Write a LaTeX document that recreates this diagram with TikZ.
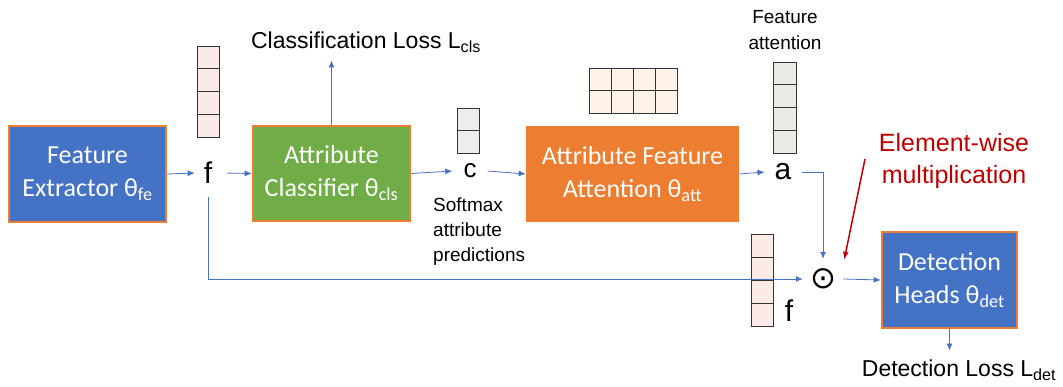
\documentclass[tikz,border=0pt]{standalone}
\usepackage{fontspec}
\setmainfont{Liberation Sans}
\newfontfamily\boxfont{Carlito}
\newfontfamily\symfont{DejaVu Sans}
\usetikzlibrary{arrows.meta}
\definecolor{myblue}{HTML}{4472C4}
\definecolor{myorange}{HTML}{ED7D31}
\definecolor{mygreen}{HTML}{70AD47}
\definecolor{myred}{HTML}{C00000}
\definecolor{pinkcell}{HTML}{FBEAE6}
\definecolor{peachcell}{HTML}{FEF3E7}
\definecolor{greycell}{HTML}{EDEDED}
\definecolor{sagecell}{HTML}{E8ECE4}
\begin{document}
\begin{tikzpicture}[x=1pt,y=-1pt,
  block/.style={draw=myorange,line width=2.6pt,text=white,align=center,
    font=\boxfont\fontsize{26}{33}\selectfont,inner sep=0pt},
  cellstyle/.style={draw=black!80,line width=0.9pt},
  arr/.style={draw=myblue,line width=0.8pt,-{Latex[length=7pt,width=6pt]}},
  redarr/.style={draw=myred,line width=1.5pt,-{Latex[length=8pt,width=6pt]}},
  lbl/.style={inner sep=0pt,font=\fontsize{30}{36}\selectfont},
  txt/.style={inner sep=0pt,font=\fontsize{23}{28}\selectfont}]
\useasboundingbox (0,0) rectangle (1063,387);

% vectors
\foreach \i in {0,...,3} \draw[cellstyle,fill=pinkcell] (197,46+22.75*\i) rectangle (219,46+22.75*\i+22.75);
\foreach \i in {0,1} \draw[cellstyle,fill=greycell] (457,108+22.5*\i) rectangle (479,108+22.5*\i+22.5);
\foreach \i in {0,...,3} \foreach \j in {0,1} \draw[cellstyle,fill=peachcell] (589+22*\i,68+22.5*\j) rectangle (589+22*\i+22,68+22.5*\j+22.5);
\foreach \i in {0,...,3} \draw[cellstyle,fill=sagecell] (773,62+22.75*\i) rectangle (796,62+22.75*\i+22.75);
\foreach \i in {0,...,3} \draw[cellstyle,fill=pinkcell] (751,234+23*\i) rectangle (773,234+23*\i+23);

% blocks
\node[block,fill=myblue,minimum width=157pt,minimum height=96pt] (fe) at (87.5,174) {Feature\\Extractor θ\textsubscript{fe}};
\node[block,fill=mygreen,minimum width=157pt,minimum height=95pt] (cls) at (331.5,173.5) {Attribute\\Classifier θ\textsubscript{cls}};
\node[block,fill=myorange,minimum width=211pt,minimum height=94pt] (att) at (632.5,174) {Attribute Feature\\Attention θ\textsubscript{att}};
\node[block,fill=myblue,minimum width=135pt,minimum height=96pt] (det) at (949.5,280) {Detection\\Heads θ\textsubscript{det}};

% labels
\node[lbl,inner xsep=9pt,inner ysep=5pt] (f) at (208,173) {f};
\node[lbl,font=\fontsize{26}{30}\selectfont,inner xsep=11pt] (c) at (470,171) {c};
\node[lbl,inner xsep=10pt,inner ysep=6pt] (a) at (783,172) {a};
\node[lbl] (f2) at (789,311) {f};
\node[inner sep=0pt,font=\symfont\fontsize{31}{33}\selectfont,minimum size=40pt] (odot) at (823,279) {⊙};

\node[txt] (closs) at (366,42) {Classification Loss L\textsubscript{cls}};
\node[txt] (dloss) at (959,370) {Detection Loss L\textsubscript{det}};
\node[inner sep=0pt,anchor=north west,align=left,font=\fontsize{19}{25}\selectfont] (soft) at (433,198) {Softmax\\attribute\\predictions};
\node[inner sep=0pt,align=center,font=\fontsize{19}{26}\selectfont] (fatt) at (785,30) {Feature\\attention};
\node[inner sep=0pt,align=center,text=myred,font=\fontsize{25}{32}\selectfont] (ew) at (954,161) {Element-wise\\multiplication};
\coordinate (redstart) at (865,159);

% connectors
\draw[arr] (fe.east) -- (f.west);
\draw[arr,shorten <=6pt] (f.east) -- (cls.west);
\draw[arr] (cls.east) -- (c.west);
\draw[arr] (c.east) -- (att.west);
\draw[arr] (att.east) -- (a.west);
\draw[arr] (a.east) -| (odot.north);
\draw[arr] (cls.north) -- ([yshift=-8pt]cls.north |- closs.south);
\draw[arr,shorten <=8pt] (f.south) |- (odot.west);
\draw[arr] (odot.east) -- (det.west);
\draw[arr] (det.south) -- ([yshift=9pt]det.south |- dloss.north);
\draw[redarr] (redstart) -- ([xshift=1pt,yshift=-1pt]odot.north east);
\end{tikzpicture}
\end{document}
